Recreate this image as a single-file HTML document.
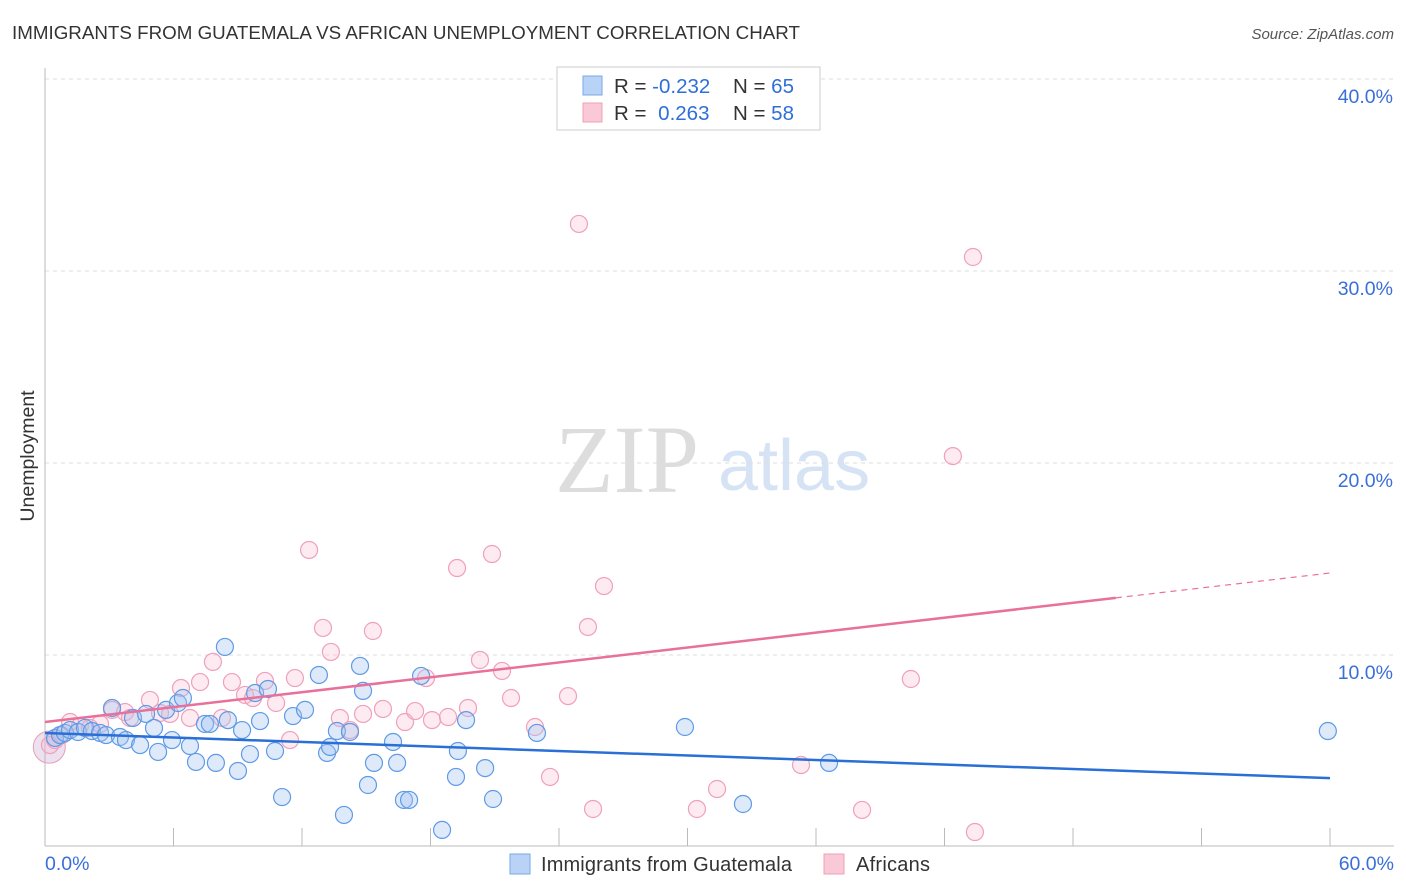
<!DOCTYPE html>
<html><head><meta charset="utf-8"><style>
body{margin:0;background:#fff;font-family:"Liberation Sans",sans-serif}
#wrap{position:relative;width:1406px;height:892px;overflow:hidden}
</style></head><body>
<div id="wrap">
<svg id="chart" width="1406" height="892">
<text x="12" y="39" font-size="18" fill="#333" textLength="788" lengthAdjust="spacingAndGlyphs">IMMIGRANTS FROM GUATEMALA VS AFRICAN UNEMPLOYMENT CORRELATION CHART</text>
<text x="1394" y="39" font-size="15" fill="#555" font-style="italic" text-anchor="end">Source: ZipAtlas.com</text>
<text x="34" y="456" font-size="19.5" fill="#333" transform="rotate(-90 34 456)" text-anchor="middle">Unemployment</text>
<text x="555" y="492" font-size="96" fill="#ddd" font-family="Liberation Serif,serif">ZIP</text>
<text x="718" y="490" font-size="72" fill="#d5e3f5">atlas</text>
<g id="grid"></g><g id="axes"></g><g id="pts"></g><g id="lines"></g>
<g>
<rect x="557" y="67" width="263" height="63" fill="#fff" stroke="#ccc"/>
<rect x="583" y="76" width="19" height="19" fill="#b8d3f5" stroke="#7aa8e6"/>
<rect x="583" y="103" width="19" height="19" fill="#f9c9d7" stroke="#f0a0b8"/>
<text x="614" y="93" font-size="20.5" fill="#333">R = <tspan fill="#2f6fd8">-0.232</tspan></text>
<text x="733" y="93" font-size="20.5" fill="#333">N = <tspan fill="#2f6fd8">65</tspan></text>
<text x="614" y="120" font-size="20.5" fill="#333">R =  <tspan fill="#2f6fd8" dx="6">0.263</tspan></text>
<text x="733" y="120" font-size="20.5" fill="#333">N = <tspan fill="#2f6fd8">58</tspan></text>
</g>
<g>
<rect x="510" y="854" width="20" height="20" fill="#b8d3f5" stroke="#7aa8e6"/>
<text x="541" y="871" font-size="20" fill="#333" textLength="251">Immigrants from Guatemala</text>
<rect x="824" y="854" width="20" height="20" fill="#f9c9d7" stroke="#f0a0b8"/>
<text x="856" y="871" font-size="20" fill="#333" textLength="74">Africans</text>
</g>
</svg>
</div>
<script>
const blueX=[0.47,0.70,0.93,1.17,1.54,1.87,2.19,2.57,2.85,3.13,3.50,3.78,4.11,4.44,4.72,5.09,5.28,5.65,5.93,6.21,6.44,6.77,7.05,7.47,7.70,7.98,8.54,8.40,9.01,9.20,9.57,9.81,10.04,10.41,10.74,11.07,11.58,12.14,12.79,13.17,13.31,13.63,13.96,14.24,14.71,14.85,15.08,15.36,16.25,16.44,16.76,17.00,17.56,18.54,19.19,19.28,19.66,20.55,20.92,22.97,29.88,32.59,36.61,59.90];
const blueY=[5.68,5.83,5.94,6.09,5.99,6.20,6.04,5.94,5.83,7.24,5.73,5.57,6.72,5.31,6.93,6.20,4.95,7.14,5.57,7.50,7.76,5.26,4.43,6.41,6.41,4.38,6.61,10.42,3.96,6.09,4.84,8.02,6.56,8.23,5.00,2.60,6.82,7.14,8.96,4.90,5.21,6.04,1.67,5.99,9.43,8.13,3.23,4.38,5.47,4.38,2.45,2.45,8.91,0.89,3.65,5.00,6.61,4.11,2.50,5.94,6.25,2.24,4.38,6.04];
const pinkX=[0.23,0.47,0.79,1.17,1.63,2.10,2.57,3.13,3.74,3.97,4.90,5.37,5.84,6.35,6.77,7.24,7.84,8.26,8.73,9.34,9.71,10.27,10.79,11.44,11.67,12.33,12.98,13.35,13.77,14.24,14.85,15.31,15.78,16.81,17.28,17.79,18.07,18.82,19.24,19.75,20.31,20.87,21.34,21.76,22.88,23.58,24.42,24.93,25.35,25.59,26.10,30.44,31.38,35.30,38.15,40.43,42.39,43.33,43.42];
const pinkY=[5.31,5.57,5.83,6.51,6.30,6.20,6.41,7.14,7.03,6.72,7.66,6.98,6.93,8.28,6.72,8.59,9.64,6.72,8.59,7.92,7.76,8.65,7.50,5.57,8.80,15.47,11.41,10.16,6.72,6.09,6.93,11.25,7.19,6.51,7.08,8.80,6.61,6.77,14.53,7.24,9.74,15.26,9.17,7.76,6.25,3.65,7.86,32.45,11.46,1.98,13.59,1.98,3.02,4.27,1.93,8.75,20.36,30.73,0.78];
const yTicks=[10,20,30,40];
const yTickLabels=["10.0%","20.0%","30.0%","40.0%"];
const xTickLabels=["0.0%","60.0%"];
const blueTrend=[5.94,3.59];
const pinkTrend=[6.51,14.27];
const NS="http://www.w3.org/2000/svg";
const X=v=>45+v/60*1285, Y=v=>847-v*19.2;
function mk(p,tag,a){const e=document.createElementNS(NS,tag);for(const k in a)e.setAttribute(k,a[k]);p.appendChild(e);return e;}
const grid=document.getElementById('grid'),axes=document.getElementById('axes'),pts=document.getElementById('pts'),lines=document.getElementById('lines');
yTicks.forEach((t,i)=>{
 const l=mk(grid,'line',{x1:45,x2:1394,y1:Y(t),y2:Y(t),stroke:'#ddd','stroke-dasharray':'4,4'});
 
 
 const tx=mk(grid,'text',{x:1393,y:Y(t)+24,'font-size':19.5,fill:'#3a6fd8','text-anchor':'end'});
 tx.textContent=yTickLabels[i];
 
 
});
const ax=mk(axes,'line',{x1:45,x2:1394,y1:846,y2:846,stroke:'#bbb'});


const ay=mk(axes,'line',{x1:45,x2:45,y1:68,y2:846,stroke:'#bbb'});


for(let i=0;i<=10;i++){
 const t=mk(axes,'line',{x1:X(i*6),x2:X(i*6),y1:828,y2:846,stroke:'#bbb'});
 
 
}
[[0,45,'start'],[60,1394,'end']].forEach((d,i)=>{
 const t=mk(axes,'text',{x:d[1],y:870,'font-size':19.5,fill:'#3a6fd8','text-anchor':d[2]});
 t.textContent=xTickLabels[i];
 
 
});
const big=mk(pts,'circle',{cx:X(0.2),cy:Y(5.2),r:16,fill:'rgba(200,170,210,0.35)',stroke:'#e8a0b8'});


pinkX.forEach((v,i)=>{
 const c=mk(pts,'circle',{cx:X(v),cy:Y(pinkY[i]),r:8.5,fill:'rgba(248,190,208,0.3)',stroke:'#f0a0ba','stroke-width':1.2});
 
 
});
blueX.forEach((v,i)=>{
 const c=mk(pts,'circle',{cx:X(v),cy:Y(blueY[i]),r:8.5,fill:'rgba(160,195,240,0.35)',stroke:'#5f9ae6','stroke-width':1.2});
 
 
});
const bl=mk(lines,'line',{x1:X(0),y1:Y(blueTrend[0]),x2:X(60),y2:Y(blueTrend[1]),stroke:'#2a6fd6','stroke-width':2.5});


const pe=pinkTrend[0]+(pinkTrend[1]-pinkTrend[0])*50/60;
const pl=mk(lines,'line',{x1:X(0),y1:Y(pinkTrend[0]),x2:X(50),y2:Y(pe),stroke:'#e8709a','stroke-width':2.5});


const pd=mk(lines,'line',{x1:X(50),y1:Y(pe),x2:X(60),y2:Y(pinkTrend[1]),stroke:'#e8709a','stroke-width':1.2,'stroke-dasharray':'6,5'});


</script>
</body></html>
